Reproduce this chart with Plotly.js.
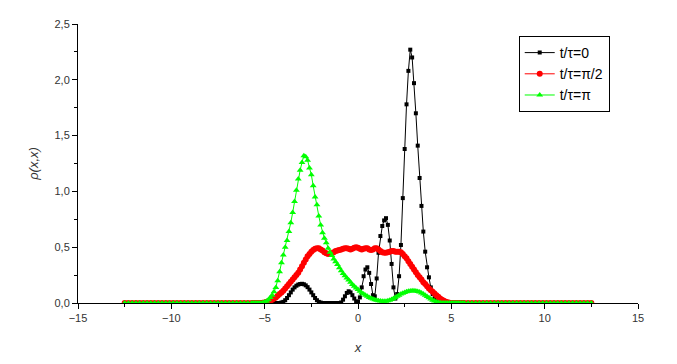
<!DOCTYPE html>
<html>
<head>
<meta charset="utf-8">
<script src="https://cdn.plot.ly/plotly-3.0.1.min.js"></script>
<style>html,body{margin:0;padding:0;background:#fff;}#chart{width:677px;height:364px;}</style>
</head>
<body>
<div id="chart"></div>
<script>
// x grid: sparse tails, dense core
const xLeftTail = [-12.5,-12.3,-12.1,-11.9,-11.7,-11.5,-11.3,-11.1,-10.9,-10.7,-10.5,-10.3,-10.1,-9.9,-9.7,-9.5,-9.3,-9.1,-8.9,-8.7,-8.5,-8.3,-8.1,-7.9,-7.7,-7.5,-7.3,-7.1,-6.9,-6.7,-6.5,-6.3,-6.1,-5.9,-5.7];
const xCore = [
-5.6,-5.5,-5.4,-5.3,-5.2,-5.1,-5.0,-4.9,-4.8,-4.7,
-4.6,-4.5,-4.4,-4.3,-4.2,-4.1,-4.0,-3.9,-3.8,-3.7,
-3.6,-3.5,-3.4,-3.3,-3.2,-3.1,-3.0,-2.9,-2.8,-2.7,
-2.6,-2.5,-2.4,-2.3,-2.2,-2.1,-2.0,-1.9,-1.8,-1.7,
-1.6,-1.5,-1.4,-1.3,-1.2,-1.1,-1.0,-0.9,-0.8,-0.7,
-0.6,-0.5,-0.4,-0.3,-0.2,-0.1,0.0,0.1,0.2,0.3,
0.4,0.5,0.6,0.7,0.8,0.9,1.0,1.1,1.2,1.3,
1.4,1.5,1.6,1.7,1.8,1.9,2.0,2.1,2.2,2.3,
2.4,2.5,2.6,2.7,2.8,2.9,3.0,3.1,3.2,3.3,
3.4,3.5,3.6,3.7,3.8,3.9,4.0,4.1,4.2,4.3,
4.4,4.5,4.6,4.7,4.8,4.9,5.0,5.1,5.2,5.3,
5.4,5.5,5.6];
const xRightTail = [5.7,5.9,6.1,6.3,6.5,6.7,6.9,7.1,7.3,7.5,7.7,7.9,8.1,8.3,8.5,8.7,8.9,9.1,9.3,9.5,9.7,9.9,10.1,10.3,10.5,10.7,10.9,11.1,11.3,11.5,11.7,11.9,12.1,12.3,12.5];
const tailZeros = [0,0,0,0,0,0,0,0,0,0,0,0,0,0,0,0,0,0,0,0,0,0,0,0,0,0,0,0,0,0,0,0,0,0,0];

// t/tau = 0
const rho0Core = [
0,0,0,0,0,0,0,0,0,0,
0,0,0,0,0,0.005,0.01,0.025,0.045,0.07,
0.095,0.12,0.14,0.155,0.165,0.17,0.172,0.168,0.158,0.142,
0.12,0.095,0.07,0.045,0.025,0.01,0.004,0,0,0,
0,0,0,0,0,0,0,0.005,0.03,0.06,
0.09,0.105,0.095,0.07,0.04,0.015,0.01,0.05,0.14,0.24,
0.30,0.32,0.27,0.17,0.07,0.06,0.22,0.45,0.60,0.69,
0.74,0.76,0.70,0.56,0.35,0.14,0.04,0.08,0.24,0.52,
0.94,1.38,1.78,2.08,2.27,2.20,1.97,1.70,1.41,1.12,
0.87,0.64,0.46,0.32,0.23,0.14,0.08,0.04,0.015,0.005,
0,0,0,0,0,0,0,0,0,0,
0,0,0];
// t/tau = pi/2
const rhoHalfCore = [
0,0,0,0,0,0.002,0.005,0.01,0.015,0.02,
0.03,0.04,0.05,0.065,0.08,0.095,0.11,0.13,0.15,0.17,
0.19,0.21,0.23,0.25,0.27,0.30,0.33,0.36,0.39,0.42,
0.44,0.46,0.475,0.485,0.49,0.49,0.48,0.47,0.455,0.445,
0.44,0.44,0.445,0.455,0.465,0.47,0.475,0.48,0.485,0.49,
0.49,0.485,0.48,0.485,0.495,0.50,0.495,0.485,0.48,0.485,
0.49,0.49,0.48,0.475,0.48,0.49,0.49,0.48,0.465,0.455,
0.45,0.45,0.455,0.46,0.465,0.465,0.46,0.46,0.46,0.455,
0.44,0.42,0.40,0.375,0.35,0.325,0.30,0.275,0.25,0.23,
0.21,0.185,0.17,0.15,0.13,0.115,0.10,0.085,0.07,0.055,
0.04,0.03,0.02,0.012,0.006,0.002,0,0,0,0,
0,0,0];
// t/tau = pi
const rhoPiCore = [
0,0,0,0,0,0.003,0.008,0.015,0.03,0.05,
0.07,0.10,0.14,0.20,0.28,0.36,0.43,0.50,0.56,0.64,
0.72,0.81,0.91,1.01,1.11,1.19,1.26,1.32,1.31,1.28,
1.21,1.15,1.05,0.95,0.88,0.78,0.70,0.63,0.58,0.54,
0.49,0.455,0.425,0.395,0.37,0.345,0.315,0.29,0.265,0.245,
0.225,0.205,0.185,0.165,0.15,0.135,0.12,0.105,0.09,0.08,
0.07,0.06,0.05,0.042,0.035,0.03,0.025,0.02,0.017,0.015,
0.015,0.016,0.02,0.025,0.032,0.04,0.05,0.06,0.07,0.08,
0.088,0.095,0.10,0.105,0.108,0.11,0.11,0.108,0.104,0.098,
0.09,0.08,0.07,0.058,0.046,0.035,0.025,0.017,0.01,0.005,
0.002,0,0,0,0,0,0,0,0,0,
0,0,0];

const seriesNames = ['t/\u03c4=0', 't/\u03c4=\u03c0/2', 't/\u03c4=\u03c0'];

const xAll = xLeftTail.concat(xCore, xRightTail);
const y0 = tailZeros.concat(rho0Core, tailZeros);
const y1 = tailZeros.concat(rhoHalfCore, tailZeros);
const y2 = tailZeros.concat(rhoPiCore, tailZeros);

const font = 'Arial, "Liberation Sans", sans-serif';
const traces = [
  {x: xAll, y: y0, name: seriesNames[0], type: 'scatter', mode: 'lines+markers',
   line: {color: '#000000', width: 1}, marker: {symbol: 'square', size: 4, color: '#000000'}},
  {x: xAll, y: y1, name: seriesNames[1], type: 'scatter', mode: 'lines+markers',
   line: {color: '#ff0000', width: 1}, marker: {symbol: 'circle', size: 6, color: '#ff0000'}},
  {x: xAll, y: y2, name: seriesNames[2], type: 'scatter', mode: 'lines+markers',
   line: {color: '#00ff00', width: 1}, marker: {symbol: 'triangle-up', size: 6, color: '#00ff00'}}
];

const layout = {
  width: 677, height: 364,
  margin: {l: 78, r: 39, t: 24, b: 61},
  paper_bgcolor: '#ffffff', plot_bgcolor: '#ffffff',
  separators: ',.',
  showlegend: true,
  legend: {x: 0.787, y: 0.957, xanchor: 'left', yanchor: 'top',
    bordercolor: '#000000', borderwidth: 1, bgcolor: '#ffffff',
    font: {family: font, size: 14, color: '#000000'}, tracegroupgap: 0},
  xaxis: {range: [-15, 15], dtick: 5, tick0: 0, showgrid: false, zeroline: false,
    showline: true, linecolor: '#000000', linewidth: 1, ticks: 'outside', ticklen: 5, tickwidth: 1,
    tickcolor: '#000000', tickfont: {family: font, size: 11, color: '#333333'},
    minor: {dtick: 2.5, ticklen: 3, tickcolor: '#000000', ticks: 'outside', showgrid: false},
    title: {text: '<i>x</i>', font: {family: font, size: 13, color: '#333333'}, standoff: 19}},
  yaxis: {range: [0, 2.5], dtick: 0.5, tick0: 0, tickformat: '.1f', showgrid: false, zeroline: false,
    showline: true, linecolor: '#000000', linewidth: 1, ticks: 'outside', ticklen: 5, tickwidth: 1,
    tickcolor: '#000000', tickfont: {family: font, size: 11, color: '#333333'},
    minor: {dtick: 0.25, ticklen: 3, tickcolor: '#000000', ticks: 'outside', showgrid: false},
    title: {text: '<i>\u03c1(x,x)</i>', font: {family: font, size: 13, color: '#333333'}, standoff: 12}}
};

Plotly.newPlot('chart', traces, layout, {displayModeBar: false, staticPlot: true});
</script>
</body>
</html>
